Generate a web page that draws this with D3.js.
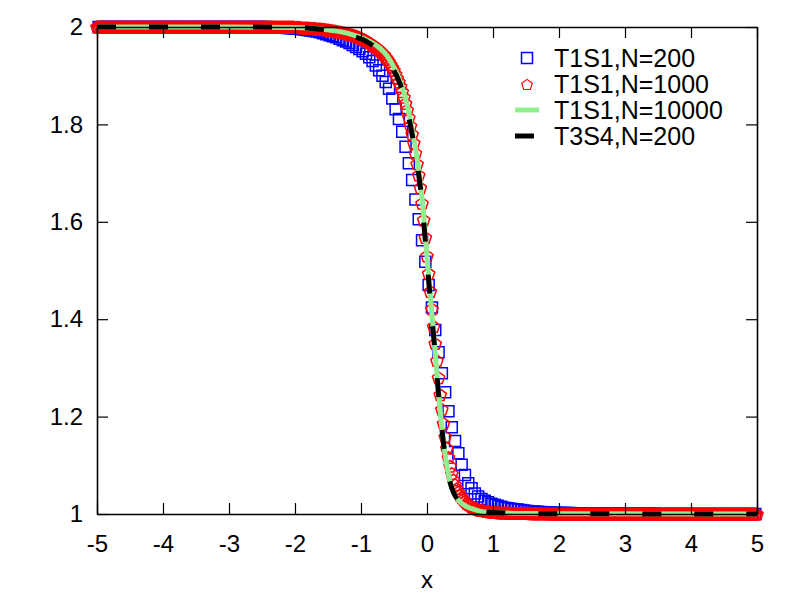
<!DOCTYPE html>
<html>
<head>
<meta charset="utf-8">
<script src="https://cdn.jsdelivr.net/npm/d3@7"></script>
<style>
  body { margin: 0; background: #fff; }
  svg { display: block; font-family: "Liberation Sans", Arial, Helvetica, sans-serif; }
</style>
</head>
<body>
<div id="chart"></div>
<script>
// T1S1, N=200 : one value per cell centre, x = -4.975 ... 4.975
const blueY = [
  2,2,2,2,2,2,2,2,2,2,
  2,2,2,2,2,2,2,2,2,2,
  2,2,2,2,2,2,2,2,2,2,
  2,2,2,2,2,2,2,2,2,2,
  2,2,2,2,2,2,2,2,2,2,
  2,2,1.9995,1.9995,1.999,1.999,1.9985,1.998,1.9975,1.997,
  1.9965,1.996,1.995,1.994,1.993,1.992,1.991,1.989,1.987,1.985,
  1.983,1.981,1.979,1.976,1.973,1.970,1.967,1.963,1.959,1.955,
  1.950,1.945,1.938,1.930,1.921,1.911,1.900,1.887,1.873,1.853,
  1.831,1.811,1.785,1.754,1.720,1.686,1.646,1.605,1.562,1.518,
  1.470,1.424,1.378,1.332,1.289,1.250,1.211,1.178,1.150,1.125,
  1.101,1.080,1.063,1.053,1.042,1.036,1.031,1.027,1.024,1.021,
  1.019,1.017,1.015,1.013,1.012,1.011,1.010,1.009,1.008,1.007,
  1.006,1.0055,1.005,1.0045,1.004,1.0035,1.003,1.003,1.0025,1.0025,
  1.002,1.002,1.002,1.002,1.0015,1.0015,1.0015,1.0015,1.001,1.001,
  1.001,1.001,1.001,1.001,1.001,1.001,1.001,1.001,1.001,1.001,
  1.0005,1.0005,1.0005,1.0005,1.0005,1.0005,1.0005,1.0005,1.0005,1.0005,
  1,1,1,1,1,1,1,1,1,1,
  1,1,1,1,1,1,1,1,1,1,
  1,1,1,1,1,1,1,1,1,1
];

// T1S1, N=1000 : read every 0.025, x = -5 ... 5
const redY = [
  2,2,2,2,2,2,2,2,2,2,
  2,2,2,2,2,2,2,2,2,2,
  2,2,2,2,2,2,2,2,2,2,
  2,2,2,2,2,2,2,2,2,2,
  2,2,2,2,2,2,2,2,2,2,
  2,2,2,2,2,2,2,2,2,2,
  2,2,2,2,2,2,2,2,2,2,
  2,2,2,2,2,2,2,2,2,2,
  2,2,2,2,2,2,2,2,2,2,
  2,2,2,2,2,2,2,2,2,2,
  2,2,2,2,2,2,2,2,2,2,
  2,2,2,2,2,2,2,2,2,2,
  1.999,1.999,1.999,1.999,1.998,1.998,1.998,1.998,1.998,1.997,
  1.997,1.997,1.997,1.996,1.996,1.996,1.996,1.995,1.995,1.994,
  1.994,1.993,1.993,1.992,1.992,1.991,1.990,1.990,1.989,1.988,
  1.987,1.987,1.986,1.985,1.984,1.983,1.982,1.981,1.980,1.978,
  1.977,1.975,1.974,1.972,1.970,1.968,1.966,1.963,1.961,1.958,
  1.956,1.953,1.950,1.946,1.943,1.938,1.934,1.929,1.923,1.917,
  1.911,1.903,1.895,1.887,1.878,1.867,1.856,1.843,1.830,1.814,
  1.797,1.780,1.762,1.741,1.719,1.696,1.670,1.638,1.604,1.568,
  1.530,1.494,1.457,1.421,1.385,1.350,1.315,1.280,1.245,1.215,
  1.186,1.159,1.135,1.116,1.098,1.083,1.070,1.060,1.052,1.045,
  1.038,1.034,1.030,1.026,1.022,1.020,1.018,1.015,1.013,1.012,
  1.011,1.009,1.008,1.007,1.007,1.006,1.005,1.005,1.004,1.004,
  1.003,1.003,1.003,1.003,1.002,1.002,1.002,1.002,1.002,1.002,
  1.002,1.001,1.001,1.001,1.001,1.001,1.001,1.001,1.001,1.001,
  1.001,1.001,1.001,1.0005,1.0005,1.0005,1.0005,1.0005,1.0005,1.0005,
  1.0005,1.0005,1.0005,1.0005,1.0005,1,1,1,1,1,
  1,
  1,1,1,1,1,1,1,1,1,1,
  1,1,1,1,1,1,1,1,1,1,
  1,1,1,1,1,1,1,1,1,1,
  1,1,1,1,1,1,1,1,1,1,
  1,1,1,1,1,1,1,1,1,1,
  1,1,1,1,1,1,1,1,1,1,
  1,1,1,1,1,1,1,1,1,1,
  1,1,1,1,1,1,1,1,1,1,
  1,1,1,1,1,1,1,1,1,1,
  1,1,1,1,1,1,1,1,1,1,
  1,1,1,1,1,1,1,1,1,1,
  1,1,1,1,1,1,1,1,1,1
];

// T1S1, N=10000 (line)
const greenX = [-5,-3,-2,-1.6,-1.3,-1.1,-0.95,-0.8,-0.7,-0.6,
  -0.5,-0.4,-0.3,-0.25,-0.2,-0.15,-0.1,-0.05,0,0.05,
  0.1,0.15,0.2,0.25,0.3,0.35,0.4,0.5,0.6,0.7,
  0.8,1,1.5,2,5];
const greenY = [2,2,1.999,1.996,1.99,1.983,1.976,1.965,1.955,1.94,
  1.917,1.887,1.84,1.807,1.77,1.73,1.68,1.612,1.53,1.448,
  1.37,1.29,1.213,1.148,1.10,1.066,1.045,1.025,1.015,1.01,
  1.006,1.003,1.001,1.0005,1];

// T3S4, N=200 (dashed line)
const blackX = [-5,-3,-2,-1.6,-1.3,-1.1,-0.95,-0.8,-0.7,-0.6,
  -0.5,-0.45,-0.4,-0.35,-0.3,-0.25,-0.2,-0.15,-0.1,-0.05,
  0,0.05,0.1,0.15,0.2,0.25,0.3,0.35,0.4,0.5,
  0.6,0.7,0.8,1,1.5,2,5];
const blackY = [2,2,1.999,1.995,1.988,1.98,1.973,1.96,1.95,1.935,
  1.91,1.897,1.88,1.86,1.83,1.797,1.76,1.72,1.67,1.60,
  1.52,1.44,1.365,1.285,1.21,1.145,1.10,1.065,1.045,1.025,
  1.015,1.01,1.006,1.003,1.001,1.0005,1];

const xTicks = [-5,-4,-3,-2,-1,0,1,2,3,4,5];
const yTicks = [1,1.2,1.4,1.6,1.8,2];
const legendLabels = ["T1S1,N=200", "T1S1,N=1000", "T1S1,N=10000", "T3S4,N=200"];
const xTitle = "x";

// grids of the two marker series
const blueX = d3.range(blueY.length).map(i => -4.975 + 0.05 * i);
const redX = d3.range(redY.length).map(i => -5 + 0.025 * i);

const W = 800, H = 600;
const mLeft = 97, mRight = 757, mTop = 27, mBottom = 514;

const svg = d3.select("#chart").append("svg")
  .attr("width", W)
  .attr("height", H);

const x = d3.scaleLinear().domain([-5, 5]).range([mLeft, mRight]);
const y = d3.scaleLinear().domain([1, 2]).range([mBottom, mTop]);

function pentagon (r) {
  let pts = d3.range(5).map(k => {
    let a = -Math.PI / 2 + k * 2 * Math.PI / 5;
    return [r * Math.cos(a), r * Math.sin(a)];
  });
  return "M" + pts.join("L") + "Z";
}
const squarePath = d3.symbol().type(d3.symbolSquare).size(121)();

// Series
svg.append("g").selectAll("path")
  .data(blueY)
  .join("path")
  .attr("d", squarePath)
  .attr("transform", (d, i) => `translate(${x(blueX[i])},${y(d)})`)
  .attr("fill", "none")
  .attr("stroke", "#0000ff")
  .attr("stroke-width", 1.5);

svg.append("g").selectAll("path")
  .data(redY)
  .join("path")
  .attr("d", pentagon(6.4))
  .attr("transform", (d, i) => `translate(${x(redX[i])},${y(d) + 0.6})`)
  .attr("fill", "none")
  .attr("stroke", "#ff0000")
  .attr("stroke-width", 1.5);

let line = d3.line()
  .x(d => x(d[0]))
  .y(d => y(d[1]))
  .curve(d3.curveMonotoneX);

svg.append("path")
  .attr("d", line(greenX.map((v, i) => [v, greenY[i]])))
  .attr("fill", "none")
  .attr("stroke", "#90ee90")
  .attr("stroke-width", 5);

svg.append("path")
  .attr("d", line(blackX.map((v, i) => [v, blackY[i]])))
  .attr("fill", "none")
  .attr("stroke", "#000")
  .attr("stroke-width", 5)
  .attr("stroke-dasharray", "19,33");

// Axes: inward ticks on all four sides
const xMinor = d3.range(-5, 5.001, 0.2);
const yMinor = d3.range(1, 2.001, 0.04);

function drawAxis (axisFn, scale, pos, minorVals, majorVals, labels) {
  let g = svg.append("g").attr("transform", pos);
  g.call(axisFn(scale).tickValues(minorVals).tickSize(-6).tickSizeOuter(0).tickFormat(""));
  let major = axisFn(scale).tickValues(majorVals).tickSize(-11).tickSizeOuter(0);
  if (labels) {
    major.tickFormat(d => String(d)).tickPadding(labels);
  } else {
    major.tickFormat("");
  }
  g.call(major);
  g.selectAll(".domain").attr("stroke", "#000").attr("stroke-width", 1.6);
  g.selectAll(".tick line").attr("stroke", "#000").attr("stroke-width", 1.2);
  g.selectAll("text").attr("font-size", 24).attr("fill", "#000")
    .attr("font-family", "'Liberation Sans', Arial, Helvetica, sans-serif");
  return g;
}

drawAxis(d3.axisBottom, x, `translate(0,${mBottom})`, xMinor, xTicks, 21);
drawAxis(d3.axisTop, x, `translate(0,${mTop})`, xMinor, xTicks, 0);
drawAxis(d3.axisLeft, y, `translate(${mLeft},0)`, yMinor, yTicks, 14);
drawAxis(d3.axisRight, y, `translate(${mRight},0)`, yMinor, yTicks, 0);

svg.append("text")
  .attr("x", (mLeft + mRight) / 2)
  .attr("y", 588)
  .attr("text-anchor", "middle")
  .attr("font-size", 24)
  .text(xTitle);

// Legend
const legend = svg.append("g").attr("transform", "translate(527,0)");
const rowY = [58, 84, 110, 136];

legend.append("path").attr("d", squarePath)
  .attr("transform", `translate(0,${rowY[0]})`)
  .attr("fill", "none").attr("stroke", "#0000ff").attr("stroke-width", 1.5);
legend.append("path").attr("d", pentagon(5.6))
  .attr("transform", `translate(0,${rowY[1] + 1})`)
  .attr("fill", "none").attr("stroke", "#ff0000").attr("stroke-width", 1.1);
legend.append("line")
  .attr("x1", -12).attr("x2", 12).attr("y1", rowY[2]).attr("y2", rowY[2])
  .attr("stroke", "#90ee90").attr("stroke-width", 5);
legend.append("line")
  .attr("x1", -12).attr("x2", 7).attr("y1", rowY[3]).attr("y2", rowY[3])
  .attr("stroke", "#000").attr("stroke-width", 5);

legend.selectAll("text.lbl")
  .data(legendLabels)
  .join("text")
  .attr("class", "lbl")
  .attr("x", 27)
  .attr("y", (d, i) => rowY[i] + 9)
  .attr("font-size", 25)
  .text(d => d);
</script>
</body>
</html>
